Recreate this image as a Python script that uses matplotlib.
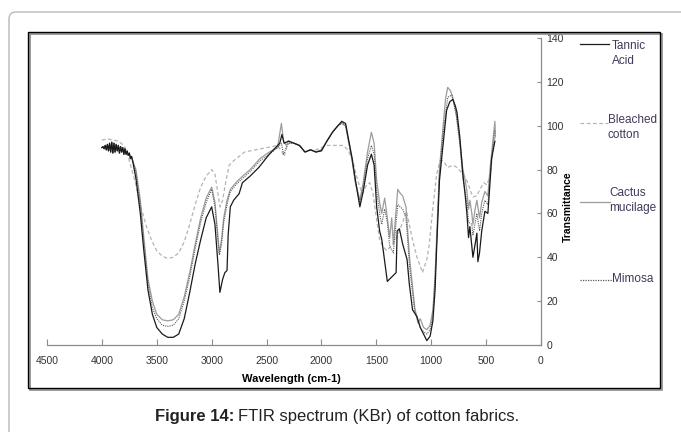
import matplotlib
matplotlib.use('Agg')
import matplotlib.pyplot as plt
from matplotlib.patches import FancyBboxPatch, Rectangle
from matplotlib.lines import Line2D

plt.rcParams['font.family'] = ['Liberation Sans', 'DejaVu Sans']

# shared noisy start of the three main spectra (cm-1, %T)
start_wn = [4000, 3990, 3980, 3970, 3960, 3950, 3940, 3930, 3920, 3910, 3900, 3890, 3880,
            3870, 3860, 3850, 3840, 3830, 3820, 3810, 3800, 3790, 3780, 3770, 3760, 3750,
            3740, 3730, 3720]
start_t = [90, 90.5, 89.5, 91, 89, 91.5, 88.5, 92, 88, 92.5, 87.5, 92, 88,
           91.5, 88.5, 91, 87.5, 90.5, 88, 90, 87, 89.5, 87, 88.5, 86.5, 87.5,
           85, 86, 84]

tannic_wn = start_wn + [3690, 3650, 3620, 3580, 3540, 3500, 3450, 3400, 3350, 3300, 3250, 3200,
                        3150, 3100, 3050, 3000, 2970, 2940, 2925, 2900, 2880, 2860, 2850, 2830,
                        2800, 2750, 2720, 2650, 2570, 2475, 2380, 2360, 2340, 2300, 2250, 2200,
                        2150, 2100, 2050, 2000, 1950, 1900, 1850, 1815, 1780, 1750, 1720, 1690,
                        1650, 1620, 1580, 1545, 1520, 1497, 1470, 1450, 1400, 1320, 1310, 1290,
                        1260, 1220, 1200, 1170, 1130, 1100, 1070, 1040, 1010, 985, 965, 950,
                        925, 895, 860, 830, 803, 780, 765, 740, 712, 690, 675, 660, 648, 630,
                        620, 600, 584, 575, 560, 540, 511, 484, 470, 450, 420]
tannic_t = start_t + [76, 60, 44, 25, 14, 8, 5, 3.5, 3.5, 5, 12, 24,
                      37, 48, 58, 63, 55, 35, 24, 30, 33, 34, 50, 63,
                      66, 69, 74, 77, 81, 87, 92, 96, 92, 93, 92, 91,
                      88, 89, 88, 88.5, 93, 97, 100, 102, 101, 93, 85, 75,
                      63, 70, 82, 87, 82, 63, 52, 48, 29, 33, 52, 53,
                      46, 39, 28, 16, 13, 8, 5, 2, 4, 11, 25, 45,
                      75, 90, 107, 111, 112, 109, 106, 95, 78, 68, 60, 49, 54, 45,
                      40, 46, 51, 38, 42, 52, 61, 60, 70, 85, 93]

bleached_wn = [4000, 3950, 3900, 3850, 3800, 3780, 3750, 3700, 3650, 3600, 3550, 3500, 3450,
               3400, 3350, 3300, 3250, 3200, 3150, 3100, 3050, 3000, 2970, 2940, 2925, 2900,
               2870, 2840, 2800, 2750, 2700, 2600, 2500, 2400, 2360, 2340, 2320, 2300, 2250,
               2200, 2150, 2100, 2050, 2000, 1950, 1900, 1850, 1800, 1760, 1720, 1680, 1650,
               1625, 1590, 1560, 1530, 1500, 1470, 1440, 1405, 1350, 1315, 1260, 1225, 1200,
               1170, 1130, 1100, 1080, 1060, 1040, 1020, 1000, 980, 950, 920, 890, 850, 800,
               767, 712, 675, 640, 620, 584, 557, 520, 493, 465, 440, 420]
bleached_t = [93.5, 94, 93.5, 93, 91, 89, 84, 75, 64, 55, 48, 43, 40.5,
              39.5, 40, 42, 47, 55, 64, 72, 77, 80, 78, 68, 63, 66,
              75, 82, 84, 86, 88, 89, 90, 91, 88, 86, 90, 92, 92,
              91, 88, 89, 89, 90, 91, 91, 91, 91, 89, 85, 77, 72,
              69, 73, 74, 69, 58, 48, 45, 43, 46, 49, 56, 61, 55,
              48, 40, 36, 33, 36, 39, 45, 55, 65, 78, 84, 84, 81, 82,
              81, 78, 75, 70, 67.5, 68, 71, 74, 73, 77, 88, 95]

cactus_wn = start_wn + [3690, 3650, 3620, 3580, 3540, 3500, 3450, 3400, 3350, 3300, 3250, 3200,
                        3150, 3100, 3050, 3000, 2970, 2940, 2930, 2910, 2890, 2860, 2830, 2780,
                        2740, 2650, 2560, 2475, 2400, 2365, 2345, 2320, 2300, 2250, 2200, 2150,
                        2100, 2050, 2000, 1950, 1900, 1850, 1815, 1780, 1750, 1720, 1690, 1650,
                        1620, 1580, 1545, 1520, 1497, 1470, 1451, 1424, 1400, 1378, 1360, 1345,
                        1305, 1280, 1260, 1230, 1196, 1150, 1120, 1100, 1070, 1040, 1010, 985,
                        965, 950, 925, 895, 870, 850, 825, 800, 770, 740, 712, 690, 675, 660,
                        648, 630, 620, 600, 584, 560, 540, 511, 484, 465, 440, 420, 415]
cactus_t = start_t + [80, 66, 50, 30, 20, 14, 11.5, 11, 11.5, 14, 22, 33,
                      46, 58, 67, 72, 65, 48, 42, 48, 58, 66, 71, 74,
                      76, 80, 85, 88, 90, 101, 93, 91, 93, 92, 91, 88,
                      89, 88, 89, 93, 97, 100, 101, 100, 92, 84, 74, 66,
                      74, 88, 97, 92, 75, 65, 60, 67, 58, 49, 58, 46,
                      71, 69, 68, 63, 39, 17, 10, 12, 8, 7, 9, 16,
                      30, 50, 80, 98, 112, 117.5, 116, 112, 105, 93, 80, 75, 70, 62,
                      66, 60, 55, 62, 66, 58, 65, 70, 68, 80, 92, 102, 95]

mimosa_wn = start_wn + [3690, 3650, 3620, 3580, 3540, 3500, 3450, 3400, 3350, 3300, 3250, 3200,
                        3150, 3100, 3050, 3000, 2970, 2940, 2930, 2910, 2890, 2860, 2830, 2780,
                        2740, 2650, 2560, 2475, 2400, 2365, 2345, 2320, 2300, 2250, 2200, 2150,
                        2100, 2050, 2000, 1950, 1900, 1850, 1815, 1780, 1750, 1720, 1690, 1650,
                        1620, 1580, 1545, 1520, 1497, 1470, 1451, 1424, 1400, 1378, 1345, 1305,
                        1260, 1230, 1196, 1150, 1100, 1070, 1040, 1010, 985, 950, 925, 895,
                        850, 810, 770, 740, 712, 675, 660, 630, 620, 584, 560, 540, 511, 484,
                        465, 440, 420]
mimosa_t = start_t + [79, 64, 48, 28, 17, 12, 9, 8.5, 9, 12, 20, 31,
                      44, 56, 65, 71, 63, 46, 41, 46, 56, 64, 70, 73,
                      75, 79, 84, 87, 90, 92, 87, 90, 92, 92, 91, 88,
                      89, 88, 89, 93, 97, 100, 101.5, 100, 92, 84, 74, 65,
                      72, 85, 91, 87, 70, 60, 55, 62, 56, 45, 42, 64,
                      62, 58, 35, 15, 8, 6, 5, 7, 13, 47, 78, 95,
                      113, 114, 104, 92, 76, 65, 56, 55, 50, 60, 52, 60, 66, 64,
                      76, 90, 98]

legend_labels = [['Tannic', 'Acid'], ['Bleached', 'cotton'], ['Cactus', 'mucilage'], ['Mimosa']]
x_ticks = [4500, 4000, 3500, 3000, 2500, 2000, 1500, 1000, 500, 0]
y_ticks = [0, 20, 40, 60, 80, 100, 120, 140]

W, H = 681, 432
fig = plt.figure(figsize=(W / 100, H / 100), dpi=100)
px = fig.dpi_scale_trans  # inches; 1 inch = 100 px


def P(x, y):
    # pixel (top-left origin) -> inches
    return x / 100, (H - y) / 100


# outer rounded frame (runs off the canvas to right and bottom)
fig.patches.append(FancyBboxPatch(P(9, 600), 8.0, (600 - 12) / 100,
                                  boxstyle='round,pad=0,rounding_size=0.07',
                                  transform=px, fill=False, ec='#b8b8b8', lw=1.0))
# chart box with a small shadow
fig.patches.append(Rectangle(P(29.5, 389.5), 6.32, 3.56, transform=px, fill=False,
                             ec='#8a8a8a', lw=1.2))
fig.patches.append(Rectangle(P(28, 388), 6.32, 3.56, transform=px, fill=False,
                             ec='black', lw=1.0))

ax = fig.add_axes([47 / W, 1 - 345 / H, (541 - 47) / W, (345 - 38) / H])
ax.patch.set_alpha(0)

ax.plot(bleached_wn, bleached_t, color='#b4b4b4', lw=0.9, ls=(0, (3, 2)))
ax.plot(cactus_wn, cactus_t, color='#9c9c9c', lw=0.9)
ax.plot(mimosa_wn, mimosa_t, color='#5a5a5a', lw=0.8, ls=(0, (1, 1)))
ax.plot(tannic_wn, tannic_t, color='#1a1a1a', lw=0.9)

ax.set_xlim(4500, 0)
ax.set_ylim(0, 140)
ax.set_xticks(x_ticks)
ax.set_xticklabels([str(v) for v in x_ticks])
ax.set_yticks(y_ticks)
for s in ['top', 'left']:
    ax.spines[s].set_visible(False)
for s in ['bottom', 'right']:
    ax.spines[s].set_color('#8c8c8c')
    ax.spines[s].set_linewidth(0.9)
ax.yaxis.tick_right()
ax.tick_params(axis='x', direction='in', length=4, color='#8c8c8c', labelsize=7.5,
               labelcolor='#333333', pad=8)
ax.tick_params(axis='y', direction='in', length=3, color='#8c8c8c', labelsize=7.5,
               labelcolor='#333333', pad=4)

fig.text(291 / W, 1 - 379 / H, 'Wavelength (cm-1)', ha='center', va='center',
         fontsize=8, fontweight='bold')
fig.text(568 / W, 1 - 207 / H, 'Transmittance', ha='center', va='center',
         rotation=90, fontsize=7.5, fontweight='bold')

# legend drawn at the right, beside the axis
leg_styles = [dict(color='#1a1a1a', ls='-'), dict(color='#b4b4b4', ls=(0, (3, 2))),
              dict(color='#9c9c9c', ls='-'), dict(color='#5a5a5a', ls=(0, (1, 1)))]
leg_line_y = [44, 123, 202, 280]
leg_line_x = [(580, 609), (580, 608), (580, 610), (580, 612)]
leg_text_x = [612, 608, 609, 612]
leg_text_y = [46, 120, 193, 279]
for lab, st, ly, (lx0, lx1), tx, ty in zip(legend_labels, leg_styles, leg_line_y,
                                           leg_line_x, leg_text_x, leg_text_y):
    (a0, b0), (a1, b1) = P(lx0, ly), P(lx1, ly)
    fig.lines.append(Line2D([a0, a1], [b0, b1], transform=px, lw=0.9, **st))
    for k, word in enumerate(lab):
        fig.text(*P(tx, ty + 15 * k), word, transform=px, ha='left', va='center',
                 fontsize=8.5, color='#44385a')

# caption
fig.text(*P(234, 416), 'Figure 14:', transform=px, ha='right', va='center',
         fontsize=12, fontweight='bold', color='#222222')
fig.text(*P(238, 416), 'FTIR spectrum (KBr) of cotton fabrics.', transform=px,
         ha='left', va='center', fontsize=12, color='#222222')

fig.savefig('out.png', dpi=100)
